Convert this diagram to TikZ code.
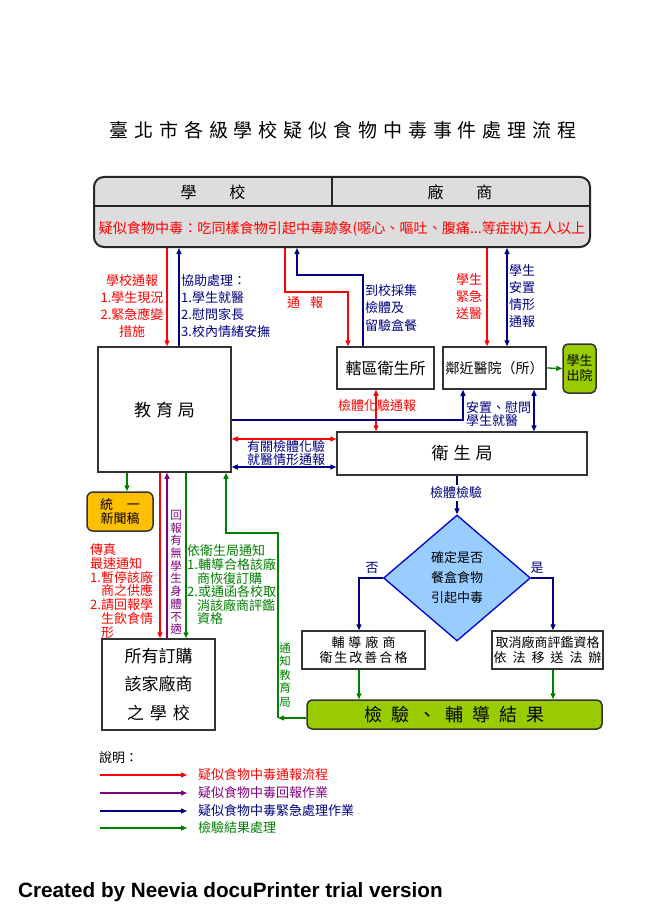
\documentclass[tikz,border=0pt]{standalone}
\usepackage{fontspec}
\setmainfont{Noto Sans CJK TC}
\newfontfamily\titlefont[LetterSpace=31]{Noto Sans CJK TC}
\newfontfamily\markfont{Liberation Sans}
\usetikzlibrary{arrows.meta,shapes.geometric,positioning}

\definecolor{alarmred}{HTML}{FF0000}
\definecolor{helpnavy}{HTML}{000080}
\definecolor{replypurple}{HTML}{800080}
\definecolor{resultgreen}{HTML}{008000}
\definecolor{limefill}{HTML}{99CC00}
\definecolor{newsorange}{HTML}{FFC000}
\definecolor{checkblue}{HTML}{99CCFF}
\definecolor{bannergray}{HTML}{DDDDDD}

\tikzset{
  flow/.style={line width=1.3pt, -{Triangle[length=6pt,width=5pt]}},
  both/.style={line width=1.3pt, {Triangle[length=6pt,width=5pt]}-{Triangle[length=6pt,width=5pt]}},
  box/.style={draw=black!80, line width=1.5pt, fill=white, inner sep=0pt, align=center},
  lbl/.style={font=\fontsize{13}{#1}\selectfont, inner sep=0pt, align=left},
  lbl/.default=17,
  big/.style={font=\fontsize{17}{20}\selectfont}
}

\begin{document}
\begin{tikzpicture}[x=1pt, y=-1pt]
  \useasboundingbox (0,0) rectangle (650,920);

  \node[font=\titlefont\fontsize{19}{21}\selectfont] (title) at (343,130) {臺北市各級學校疑似食物中毒事件處理流程};

  % banner
  \node[draw=black!85, line width=2pt, fill=bannergray, rounded corners=10pt,
        minimum width=496pt, minimum height=70pt] (banner) at (342,212) {};
  \draw[line width=1.3pt, black!85] (banner.west |- 0,206) -- (banner.east |- 0,206);
  \draw[line width=1.3pt, black!85] (banner.north -| 332,0) -- (332,206);
  \node[font=\fontsize{16}{18}\selectfont] (school) at (213,192) {學\hspace{33pt}校};
  \node[font=\fontsize{16}{18}\selectfont] (vendor) at (460,192) {廠\hspace{33pt}商};
  \node[font=\fontsize{14.1}{16}\selectfont, text=alarmred] (rule) at (342,229)
    {疑似食物中毒：吃同樣食物引起中毒跡象(噁心、嘔吐、腹痛...等症狀)五人以上};

  % boxes
  \node[box, big, minimum width=133pt, minimum height=125pt] (edu) at (164.5,409.5) {教\hspace{5pt}育\hspace{5pt}局};
  \node[box, font=\fontsize{16}{18}\selectfont, minimum width=97pt, minimum height=42pt] (hd) at (385.5,368) {轄區衛生所};
  \node[box, font=\fontsize{14}{16}\selectfont, minimum width=103pt, minimum height=42pt] (hosp) at (494.5,368) {鄰近醫院（所）};
  \node[box, lbl=15, fill=limefill, rounded corners=5pt, minimum width=33pt, minimum height=49pt] (out) at (579.5,368.5) {學生\\出院};
  \node[box, big, minimum width=250pt, minimum height=43pt] (hb) at (462,453.5) {衛\hspace{5pt}生\hspace{5pt}局};
  \node[diamond, draw=blue!80!black, line width=1.3pt, fill=checkblue, inner sep=0pt,
        minimum width=147pt, minimum height=126pt, align=center, font=\fontsize{13}{20}\selectfont] (chk) at (457,578)
        {確定是否\\餐盒食物\\引起中毒};
  \node[box, font=\fontsize{13}{14.5}\selectfont, minimum width=123pt, minimum height=38pt] (fix) at (363.5,650)
        {輔\hspace{4pt}導\hspace{4pt}廠\hspace{4pt}商\\衛\hspace{2pt}生\hspace{2pt}改\hspace{2pt}善\hspace{2pt}合\hspace{2pt}格};
  \node[box, font=\fontsize{13}{14.5}\selectfont, minimum width=111pt, minimum height=38pt] (ban) at (547.5,650)
        {取消廠商評鑑資格\\依\hspace{6pt}法\hspace{6pt}移\hspace{6pt}送\hspace{6pt}法\hspace{6pt}辦};
  \node[box, font=\fontsize{18}{20}\selectfont, fill=limefill, rounded corners=5pt, minimum width=295pt, minimum height=29pt] (res) at (454.5,714.5)
        {檢\hspace{9pt}驗\hspace{9pt}、\hspace{9pt}輔\hspace{9pt}導\hspace{9pt}結\hspace{9pt}果};
  \node[box, lbl=12, fill=newsorange, rounded corners=6pt, minimum width=66pt, minimum height=39pt, align=center] (news) at (120,511.5) {統\hspace{14pt}一\\新聞稿};
  \node[box, font=\fontsize{17}{28.5}\selectfont, minimum width=113pt, minimum height=91pt] (sch) at (158.5,684.5)
        {所有訂購\\該家廠商\\之\hspace{6pt}學\hspace{6pt}校};

  % banner and the boxes below it
  \draw[flow, alarmred] (banner.south -| 167,0) -- (edu.north -| 167,0);
  \draw[flow, helpnavy] (edu.north -| 179,0) -- (banner.south -| 179,0);
  \node[lbl, text=alarmred, align=center] (eduin) at (132,306) {學校通報\\1.學生現況\\2.緊急應變\\措施};
  \node[lbl, text=helpnavy, anchor=west] (eduout) at (181,306) {協助處理：\\1.學生就醫\\2.慰問家長\\3.校內情緒安撫};

  \draw[flow, alarmred] (banner.south -| 285,0) -- (285,292) -| (hd.north -| 348,0);
  \draw[flow, helpnavy] (hd.north -| 363,0) -- (363,275) -| (banner.south -| 297,0);
  \node[lbl, text=alarmred] (hdin) at (305,303) {通\hspace{10pt}報};
  \node[lbl=17.5, text=helpnavy, anchor=west] (hdout) at (365,308) {到校採集\\檢體及\\留驗盒餐};

  \draw[flow, alarmred] (banner.south -| 487,0) -- (hosp.north -| 487,0);
  \draw[both, helpnavy] (banner.south -| 507,0) -- (hosp.north -| 507,0);
  \node[lbl, text=alarmred, align=center] (hospin) at (469,297) {學生\\緊急\\送醫};
  \node[lbl, text=helpnavy, align=center] (hospout) at (522,296.5) {學生\\安置\\情形\\通報};
  \draw[flow, resultgreen] (hosp.east) -- (out.west);

  % middle
  \draw[both, alarmred] (hd.south -| 376,0) -- (hb.north -| 376,0);
  \node[lbl, text=alarmred] (sample) at (377,406) {檢體化驗通報};
  \draw[flow, helpnavy] (edu.east |- 0,420) -| (hosp.south -| 463,0);
  \draw[both, helpnavy] (hosp.south -| 534,0) -- (hb.north -| 534,0);
  \node[lbl=13, text=helpnavy, anchor=west] (care) at (466,414.5) {安置、慰問\\學生就醫};
  \draw[both, alarmred] (edu.east |- 0,439) -- (hb.west |- 0,439);
  \draw[both, helpnavy] (edu.east |- 0,467) -- (hb.west |- 0,467);
  \node[lbl=13, text=helpnavy, align=center] (share) at (286,453) {有關檢體化驗\\就醫情形通報};

  % check
  \draw[flow, helpnavy] (hb.south -| chk.north) -- (chk.north);
  \node[lbl, text=helpnavy, fill=white, inner ysep=2pt] (test) at (456,493) {檢體檢驗};
  \draw[flow, helpnavy] (chk.west) -| (fix.north -| 359,0);
  \draw[flow, helpnavy] (chk.east) -| (ban.north -| 553,0);
  \node[lbl, text=helpnavy] (no) at (372,568) {否};
  \node[lbl, text=helpnavy] (yes) at (537,568) {是};
  \draw[flow, resultgreen] (fix.south -| 359,0) -- (res.north -| 359,0);
  \draw[flow, resultgreen] (ban.south -| 553,0) -- (res.north -| 553,0);
  \coordinate (bend) at (278,718);
  \draw[flow, resultgreen] (res.west |- bend) -- (bend);
  \draw[flow, resultgreen] (bend) |- (226,533) -- (edu.south -| 226,0);
  \node[text=resultgreen, align=center, inner sep=0pt, font=\fontsize{11.5}{13.5}\selectfont] (tell) at (285,675) {通\\知\\教\\育\\局};

  % under the education bureau
  \draw[flow, resultgreen] (edu.south -| 127,0) -- (news.north -| 127,0);
  \draw[flow, alarmred] (edu.south -| 160,0) -- (sch.north -| 160,0);
  \draw[flow, replypurple] (sch.north -| 167,0) -- (edu.south -| 167,0);
  \draw[flow, resultgreen] (edu.south -| 186,0) -- (sch.north -| 186,0);
  \node[lbl=13.7, text=alarmred, anchor=west] (fax) at (90,591)
    {傳真\\最速通知\\1.暫停該廠\\\hspace*{11pt}商之供應\\2.請回報學\\\hspace*{11pt}生飲食情\\\hspace*{11pt}形};
  \node[text=replypurple, align=center, inner sep=0pt, font=\fontsize{11.5}{12.7}\selectfont] (reply) at (176,572.5)
    {回\\報\\有\\無\\學\\生\\身\\體\\不\\適};
  \node[lbl=13.6, text=resultgreen, anchor=west] (notice) at (187,585)
    {依衛生局通知\\1.輔導合格該廠\\\hspace*{10pt}商恢復訂購\\2.或通函各校取\\\hspace*{10pt}消該廠商評鑑\\\hspace*{10pt}資格};

  % legend
  \node[lbl, anchor=west] (legend) at (99,758) {說明：};
  \foreach \legy/\legc/\legt in {775/alarmred/疑似食物中毒通報流程,
                                 793/replypurple/疑似食物中毒回報作業,
                                 811/helpnavy/疑似食物中毒緊急處理作業,
                                 828/resultgreen/檢驗結果處理}{
    \draw[flow, \legc] (100,\legy) -- (187,\legy);
    \node[lbl, text=\legc, anchor=west] at (198,\legy) {\legt};
  }

  \node[anchor=west, inner sep=0pt, font=\markfont\bfseries\fontsize{20.7}{23}\selectfont] (mark) at (18,892)
    {Created by Neevia docuPrinter trial version};
\end{tikzpicture}
\end{document}
